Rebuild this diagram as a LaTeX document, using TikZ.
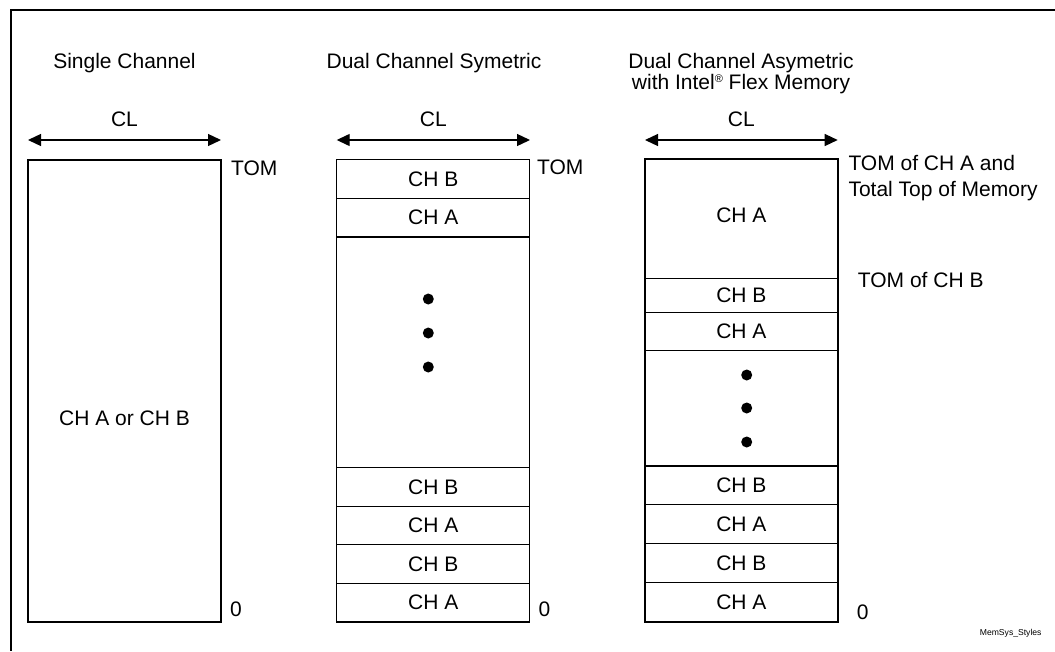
\documentclass[tikz,border=0pt]{standalone}
\usepackage{fontspec}
\setmainfont{Liberation Sans}
\usetikzlibrary{arrows.meta}
\begin{document}
\begin{tikzpicture}[x=1pt,y=-1pt,
  txt/.style={font=\fontsize{21}{25}\selectfont, inner sep=0pt},
  mem/.style={draw=black, line width=1.3pt, minimum width=193pt, inner sep=0pt, font=\fontsize{21}{25}\selectfont},
  framestyle/.style={line width=2pt},
  dimline/.style={line width=1.3pt, {Triangle[length=13pt,width=12pt]}-{Triangle[length=13pt,width=12pt]}},
  memdot/.style={circle, fill=black, minimum size=11pt, inner sep=0pt}]
\useasboundingbox (0,0) rectangle (1055,651);
% frame (top and left edges)
\coordinate (ftr) at (1055,10);
\coordinate (ftl) at (11,10);
\coordinate (fbl) at (11,651);
\draw[framestyle] (ftr) -- (ftl) -- (fbl);

% ---------- Single channel ----------
\node[txt, anchor=base] (t1) at (124.5,68.3) {Single Channel};
\node[txt, anchor=base] (cl1) at (124.5,126.7) {CL};
\coordinate (a1l) at (28,140);
\coordinate (a1r) at (221,140);
\draw[dimline] (a1l) -- (a1r);
\node[mem, minimum height=462pt] (sc) at (124.5,391) {};
\node[txt] (scl) at (124.5,418.5) {CH A or CH B};
\node[txt, anchor=base west] (tom1) at (231,175) {TOM};
\node[txt, anchor=base west] (z1) at (230,616.7) {0};

% ---------- Dual channel symmetric ----------
\node[txt, anchor=base] (t2) at (434,68.3) {Dual Channel Symetric};
\node[txt, anchor=base] (cl2) at (433.3,126.7) {CL};
\coordinate (a2l) at (336.7,140);
\coordinate (a2r) at (530,140);
\draw[dimline] (a2l) -- (a2r);
\node[mem, minimum height=38.7pt] (s1) at (433.3,178.85) {CH B};
\node[mem, minimum height=38.7pt] (s2) at (433.3,217.55) {CH A};
\node[mem, minimum height=230.7pt] (s3) at (433.3,352.25) {};
\node[mem, minimum height=38.6pt] (s4) at (433.3,486.9) {CH B};
\node[mem, minimum height=38.6pt] (s5) at (433.3,525.5) {CH A};
\node[mem, minimum height=38.6pt] (s6) at (433.3,564.1) {CH B};
\node[mem, minimum height=38.6pt] (s7) at (433.3,602.7) {CH A};
\node[memdot] (sd1) at (428.3,299) {};
\node[memdot] (sd2) at (428.3,333) {};
\node[memdot] (sd3) at (428.3,367) {};
\node[txt, anchor=base west] (tom2) at (537,174) {TOM};
\node[txt, anchor=base west] (z2) at (538.3,616.7) {0};

% ---------- Dual channel asymmetric ----------
\node[txt, anchor=base] (t3a) at (741,68.3) {Dual Channel Asymetric};
\node[txt, anchor=base] (t3b) at (741,89.3) {with Intel\raisebox{6.5pt}{\fontsize{11}{11}\selectfont\textregistered} Flex Memory};
\node[txt, anchor=base] (cl3) at (741.3,126.7) {CL};
\coordinate (a3l) at (645,140);
\coordinate (a3r) at (837.7,140);
\draw[dimline] (a3l) -- (a3r);
\node[mem, minimum height=119.3pt] (r1) at (741.35,218.65) {};
\node[txt] (r1l) at (741.35,215.5) {CH A};
\node[mem, minimum height=34pt] (r2) at (741.35,295.3) {CH B};
\node[mem, minimum height=38pt] (r3) at (741.35,331.3) {CH A};
\node[mem, minimum height=115.7pt] (r4) at (741.35,408.15) {};
\node[mem, minimum height=38.7pt] (r5) at (741.35,485.35) {CH B};
\node[mem, minimum height=38.6pt] (r6) at (741.35,524) {CH A};
\node[mem, minimum height=39pt] (r7) at (741.35,562.8) {CH B};
\node[mem, minimum height=39.7pt] (r8) at (741.35,602.15) {CH A};
\node[memdot] (rd1) at (746.7,375) {};
\node[memdot] (rd2) at (746.7,408) {};
\node[memdot] (rd3) at (746.7,442) {};
\node[txt, anchor=base west] (tom3a) at (848.3,170.7) {TOM of CH A and};
\node[txt, anchor=base west] (tom3b) at (848.3,196.7) {Total Top of Memory};
\node[txt, anchor=base west] (tom3c) at (857.7,287.3) {TOM of CH B};
\node[txt, anchor=base west] (z3) at (856.7,619) {0};

\node[inner sep=0pt, anchor=base east, font=\fontsize{8.6}{10}\selectfont] (fig) at (1041.7,635) {MemSys\_Styles};
\end{tikzpicture}
\end{document}
